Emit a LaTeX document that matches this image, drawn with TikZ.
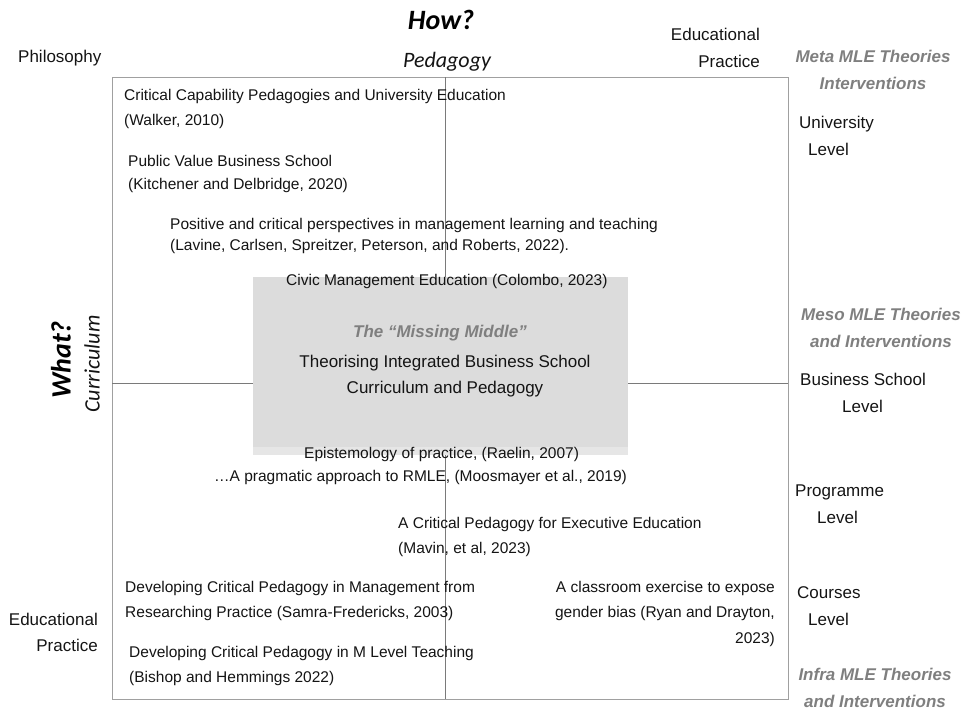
\documentclass[tikz,border=0pt]{standalone}
\usepackage{fontspec}
\setmainfont{Liberation Sans}
\newfontfamily\calib{Carlito}
\definecolor{frameC}{HTML}{A0A0A0}
\definecolor{lineC}{HTML}{7A7A7A}
\definecolor{boxC}{HTML}{DCDCDC}
\definecolor{boxS}{HTML}{E6E6E6}
\definecolor{grayT}{HTML}{7F7F7F}
\definecolor{txtC}{HTML}{141414}
\begin{document}
\begin{tikzpicture}[x=1pt,y=-1pt,
  txt/.style={inner sep=0pt, text=txtC, font=\fontsize{15.5}{25}\selectfont},
  big/.style={inner sep=0pt, text=txtC, font=\fontsize{17}{26}\selectfont},
  lvl/.style={inner sep=0pt, text=txtC, font=\fontsize{17}{27}\selectfont},
  mle/.style={inner sep=0pt, text=grayT, align=center, font=\fontsize{17}{27}\selectfont\bfseries\itshape},
  axisbig/.style={inner sep=0pt, text=black, font=\calib\fontsize{28}{30}\selectfont\bfseries\itshape},
  axissmall/.style={inner sep=0pt, text=txtC, font=\calib\fontsize{22}{24}\selectfont\itshape},
  frame/.style={draw=frameC, line width=1pt},
  divider/.style={draw=lineC, line width=0.8pt}]
\useasboundingbox (0,0) rectangle (963,712);
% frame and dividers
\coordinate (tl) at (112,77);
\coordinate (br) at (788,699);
\coordinate (vt) at (445,77);
\coordinate (vb) at (445,699);
\coordinate (hl) at (112,383);
\coordinate (hr) at (788,383);
\draw[frame] (tl) rectangle (br);
\draw[divider] (vt) -- (vb);
\draw[divider] (hl) -- (hr);
% missing middle box
\fill[boxS] (253,277) rectangle (628,455);
\fill[boxC] (253,277) rectangle (628,447);
% axes
\node[axisbig, anchor=base] (how) at (441,29) {How?};
\node[axissmall, anchor=base] (ped) at (447,67) {Pedagogy};
\node[axisbig, rotate=90] (what) at (61,360) {What?};
\node[axissmall, rotate=90] (curr) at (92,364) {Curriculum};
% left / top labels
\node[lvl, anchor=base west] (phil) at (18,62) {Philosophy};
\node[lvl, anchor=base east, align=right] (eptop) at (760,67) {Educational\\Practice};
\node[lvl, anchor=base east, align=right, font=\fontsize{17}{26}\selectfont] (epbot) at (98,651) {Educational\\Practice};
% MLE labels
\node[mle, anchor=base] (meta) at (873,89) {Meta MLE Theories\\Interventions};
\node[mle, anchor=base] (meso) at (881,347) {Meso MLE Theories\\and Interventions};
\node[mle, anchor=base] (infra) at (875,707) {Infra MLE Theories\\and Interventions};
% level labels
\node[lvl, anchor=base west] (univ) at (799,128) {University};
\node[lvl, anchor=base west] (univl) at (808,155) {Level};
\node[lvl, anchor=base west] (bs) at (800,385) {Business School};
\node[lvl, anchor=base west] (bsl) at (842,412) {Level};
\node[lvl, anchor=base west] (prog) at (795,496) {Programme};
\node[lvl, anchor=base west] (progl) at (817,523) {Level};
\node[lvl, anchor=base west] (cour) at (797,598) {Courses};
\node[lvl, anchor=base west] (courl) at (808,625) {Level};
% references
\node[txt, anchor=base west, align=left] (walker) at (124,125) {Critical Capability Pedagogies and University Education\\(Walker, 2010)};
\node[txt, anchor=base west, align=left, font=\fontsize{15.5}{23}\selectfont] (kitch) at (128,189) {Public Value Business School\\(Kitchener and Delbridge, 2020)};
\node[txt, anchor=base west, align=left, font=\fontsize{15.5}{21}\selectfont] (lavine) at (170,250) {Positive and critical perspectives in management learning and teaching\\(Lavine, Carlsen, Spreitzer, Peterson, and Roberts, 2022).};
\node[txt, anchor=base west] (colombo) at (286,285) {Civic Management Education (Colombo, 2023)};
\node[mle, anchor=base] (mm) at (440,337) {The “Missing Middle”};
\node[big, anchor=base, align=center] (theor) at (445,393) {Theorising Integrated Business School\\Curriculum and Pedagogy};
\node[txt, anchor=base west] (raelin) at (304,458) {Epistemology of practice, (Raelin, 2007)};
\node[txt, anchor=base west] (moos) at (214,481) {…A pragmatic approach to RMLE, (Moosmayer et al., 2019)};
\node[txt, anchor=base west, align=left] (mavin) at (398,553) {A Critical Pedagogy for Executive Education\\(Mavin, et al, 2023)};
\node[txt, anchor=base west, align=left] (samra) at (125,617) {Developing Critical Pedagogy in Management from\\Researching Practice (Samra-Fredericks, 2003)};
\node[txt, anchor=base east, align=right, font=\fontsize{15.5}{25.5}\selectfont] (ryan) at (775,643) {A classroom exercise to expose\\gender bias (Ryan and Drayton,\\2023)};
\node[txt, anchor=base west, align=left] (bishop) at (129,682) {Developing Critical Pedagogy in M Level Teaching\\(Bishop and Hemmings 2022)};
\end{tikzpicture}
\end{document}
